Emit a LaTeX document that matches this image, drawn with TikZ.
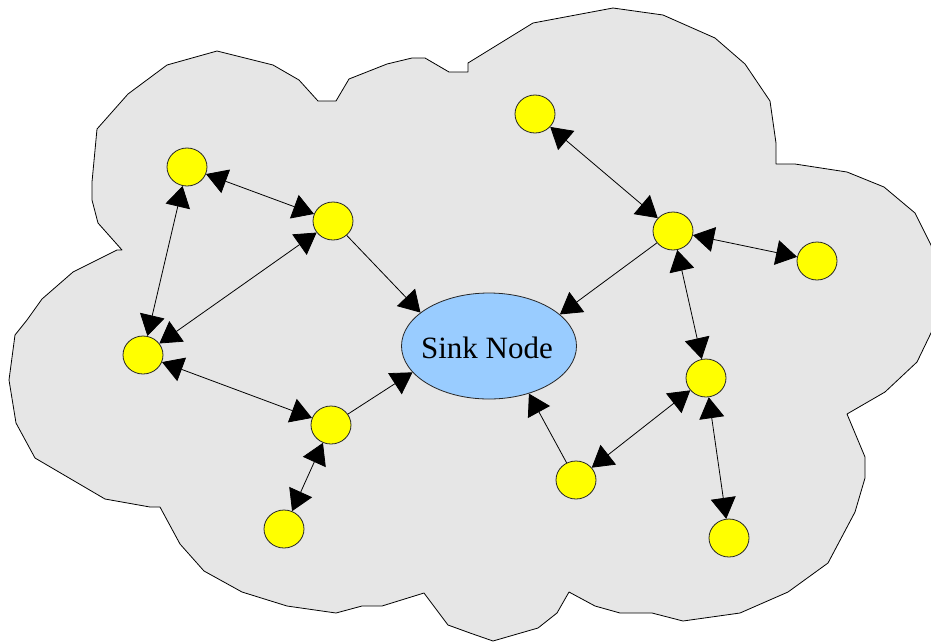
\documentclass[tikz,border=0pt]{standalone}
\usepackage{fontspec}
\setmainfont{Liberation Serif}
\usetikzlibrary{shapes.geometric,arrows.meta}
\definecolor{cloudgray}{RGB}{230,230,230}
\definecolor{sinkblue}{RGB}{153,204,255}
\definecolor{sensoryellow}{RGB}{255,255,0}
\tikzset{
  sensor/.style={ellipse,draw=black!85,line width=0.8pt,fill=sensoryellow,minimum width=40pt,minimum height=38pt,inner sep=0pt},
  sink/.style={ellipse,draw=black!85,line width=0.8pt,fill=sinkblue,minimum width=175pt,minimum height=106pt,inner sep=0pt},
  sinktext/.style={inner sep=0pt,font=\fontsize{31}{36}\selectfont},
  link/.style={line width=0.8pt,-{Triangle[length=21pt,width=25pt]}},
  blink/.style={line width=0.8pt,{Triangle[length=21pt,width=25pt]}-{Triangle[length=21pt,width=25pt]}},
  cloud/.style={fill=cloudgray,draw=black,line width=0.8pt,line join=round}
}
\begin{document}
\begin{tikzpicture}[x=1pt,y=-1pt]
\useasboundingbox (0,0) rectangle (931,641);
\draw[cloud] (217,51) -- (273,65) -- (299,80) -- (318,101) -- (336,101) -- (349,79) -- (387,64) -- (412,58) -- (425,58) -- (449,72) -- (468,72) -- (468,63)
 -- (533,23) -- (613,8) -- (663,15) -- (715,38) -- (745,64) -- (770,101) -- (776,143) -- (776,164) -- (795,164) -- (847,172) -- (884,187) -- (915,213) -- (931,245)
 -- (945,290) -- (931,333) -- (917,362) -- (885,392) -- (847,414) -- (865,457) -- (865,478) -- (855,512) -- (828,563) -- (788,592) -- (740,613) -- (683,621) -- (652,613) -- (620,613) -- (595,606) -- (569,592) -- (557,613) -- (538,628) -- (493,641)
 -- (470,633) -- (448,625) -- (424,593) -- (382,606) -- (362,606) -- (336,613) -- (287,606) -- (242,592) -- (204,571) -- (180,544) -- (160,507) -- (150,507) -- (105,499) -- (35,458) -- (16,423) -- (9,380) -- (15,335)
 -- (27,320) -- (42,299) -- (73,272) -- (117,250) -- (122,250) -- (98,223) -- (92,200) -- (92,182) -- (97,129) -- (128,94) -- (167,65) -- cycle;

\node[sink] (sink) at (489,346) {};
\node[sinktext] (sinklabel) at (487,348) {Sink Node};
\node[sensor] (a) at (187,167) {};
\node[sensor] (b) at (333,221) {};
\node[sensor] (c) at (143,355) {};
\node[sensor] (d) at (331,425) {};
\node[sensor] (e) at (284,529) {};
\node[sensor] (f) at (535,114) {};
\node[sensor] (g) at (673,231) {};
\node[sensor] (h) at (817,261) {};
\node[sensor] (i) at (706,378) {};
\node[sensor] (j) at (576,480) {};
\node[sensor] (k) at (729,538) {};

\draw[blink] (a) -- (b);
\draw[blink] (a) -- (c);
\draw[blink] (c) -- (b);
\draw[link] (b) -- (sink.154);
\draw[blink] (c) -- (d);
\draw[link] (d) -- (sink.199);
\draw[blink] (d) -- (e);
\draw[blink] (f) -- (g);
\draw[link] (g) -- (sink.24);
\draw[blink] (g) -- (h);
\draw[blink] (g) -- (i);
\draw[link] (j) -- (sink.310);
\draw[blink] (j) -- (i);
\draw[blink] (i) -- (k);
\end{tikzpicture}
\end{document}
